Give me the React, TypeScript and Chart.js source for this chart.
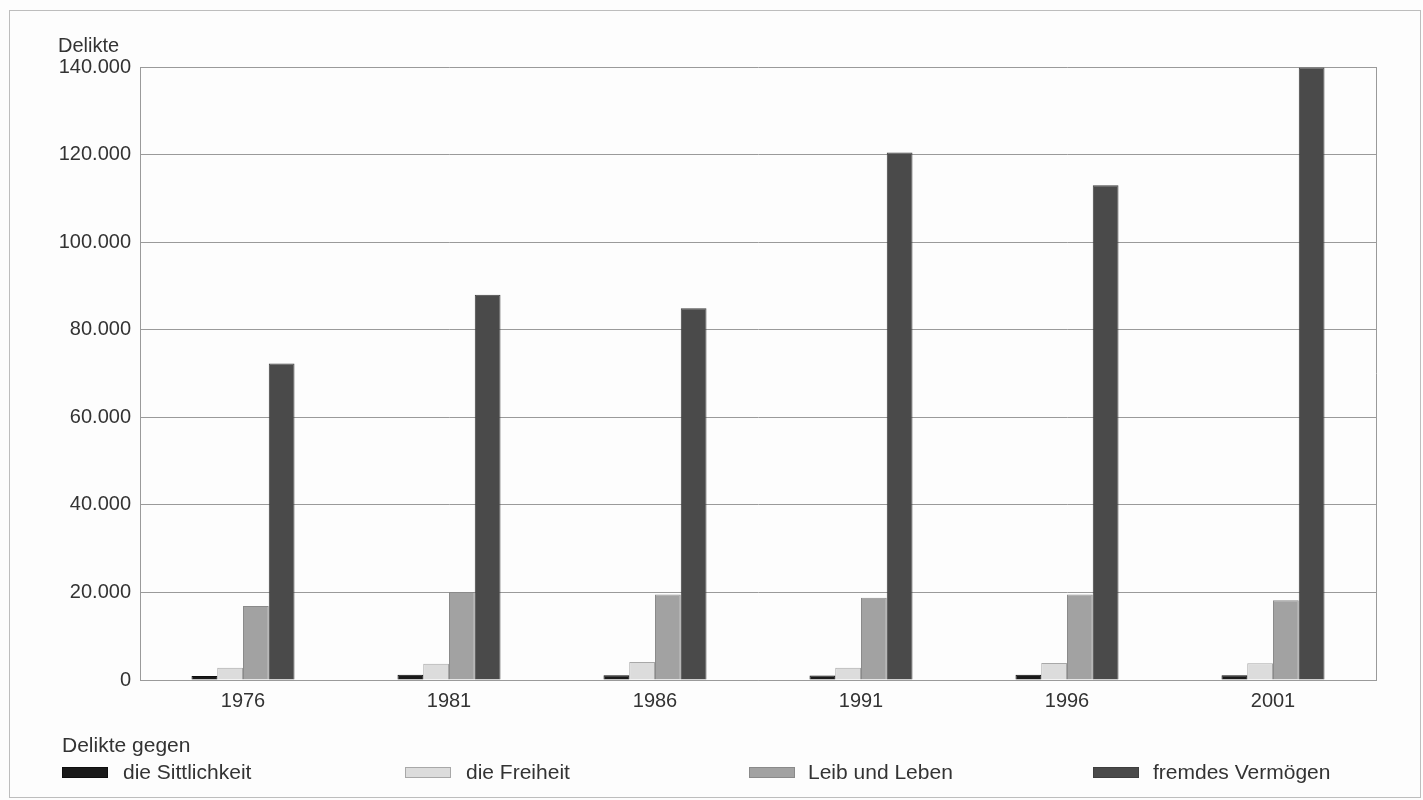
import React, { useEffect, useRef } from "react";
import { Chart, registerables } from "chart.js";

Chart.register(...registerables);

const categories = ["1976", "1981", "1986", "1991", "1996", "2001"];
const seriesNames = ["die Sittlichkeit", "die Freiheit", "Leib und Leben", "fremdes Vermögen"];
const sittlichkeit = [900, 1200, 1100, 1000, 1200, 1100];
const freiheit = [2800, 3700, 4100, 2800, 3900, 3800];
const leibLeben = [16900, 20100, 19500, 18800, 19500, 18200];
const vermoegen = [72300, 88000, 84900, 120500, 113000, 139900];
const yTicks = [0, 20000, 40000, 60000, 80000, 100000, 120000, 140000];

const fills = ["#1a1a1a", "#dcdcdc", "#a2a2a2", "#4a4a4a"];
const borders = ["#0e0e0e", "#a8a8a8", "#8a8a8a", "#3e3e3e"];
const FONT = "'Liberation Sans', Arial, Helvetica, sans-serif";

const fmt = (v: number) => String(v).replace(/\B(?=(\d{3})+(?!\d))/g, ".");

const frameRight = {
  id: "frameRight",
  afterDatasetsDraw(chart: any) {
    const { ctx, chartArea } = chart;
    ctx.save();
    ctx.strokeStyle = "#9a9a9a";
    ctx.lineWidth = 1;
    ctx.beginPath();
    ctx.moveTo(Math.round(chartArea.right) + 0.5, chartArea.top);
    ctx.lineTo(Math.round(chartArea.right) + 0.5, chartArea.bottom);
    ctx.stroke();
    ctx.restore();
  },
};

export default function App() {
  const ref = useRef<HTMLCanvasElement | null>(null);

  useEffect(() => {
    if (!ref.current) return;
    const values = [sittlichkeit, freiheit, leibLeben, vermoegen];
    const chart = new Chart(ref.current, {
      type: "bar",
      data: {
        labels: categories,
        datasets: seriesNames.map((name, i) => ({
          label: name,
          data: values[i],
          backgroundColor: fills[i],
          borderColor: borders[i],
          borderWidth: 1,
          barPercentage: 1,
          categoryPercentage: 0.5,
        })),
      },
      options: {
        responsive: false,
        animation: false,
        layout: { padding: { left: 0, top: 67, right: 47, bottom: 0 } },
        plugins: { legend: { display: false }, tooltip: { enabled: false } },
        scales: {
          x: {
            grid: { display: false },
            border: { display: true, color: "#9a9a9a", width: 1 },
            ticks: {
              color: "#333333",
              font: { family: FONT, size: 20 },
              padding: 1,
            },
            afterFit: (s: any) => {
              s.height = 120;
            },
          },
          y: {
            min: 0,
            max: 140000,
            afterBuildTicks: (s: any) => {
              s.ticks = yTicks.map((v) => ({ value: v }));
            },
            grid: { color: "#9a9a9a", lineWidth: 1, drawTicks: false },
            border: { display: true, color: "#9a9a9a", width: 1 },
            ticks: {
              color: "#333333",
              font: { family: FONT, size: 20 },
              padding: 9,
              callback: (v: any) => fmt(Number(v)),
            },
            afterFit: (s: any) => {
              s.width = 140;
            },
          },
        },
      },
      plugins: [frameRight],
    });
    return () => chart.destroy();
  }, []);

  const boxLeft = [62, 405, 749, 1093];
  const textLeft = [123, 466, 808, 1153];

  const textStyle: React.CSSProperties = {
    position: "absolute",
    fontFamily: FONT,
    color: "#333333",
    whiteSpace: "nowrap",
    lineHeight: "24px",
  };

  return (
    <div
      style={{
        position: "fixed",
        left: 0,
        top: 0,
        width: 1423,
        height: 800,
        background: "#fdfdfd",
        overflow: "hidden",
      }}
    >
      <div
        style={{
          position: "absolute",
          left: 9,
          top: 10,
          width: 1412,
          height: 788,
          border: "1px solid #bdbdbd",
          boxSizing: "border-box",
        }}
      />
      <canvas
        ref={ref}
        width={1423}
        height={800}
        style={{ position: "absolute", left: 0, top: 0, width: 1423, height: 800 }}
      />
      <div style={{ ...textStyle, left: 58, top: 33, fontSize: 20 }}>Delikte</div>
      <div style={{ ...textStyle, left: 62, top: 733, fontSize: 21 }}>Delikte gegen</div>
      {seriesNames.map((name, i) => (
        <React.Fragment key={name}>
          <div
            style={{
              position: "absolute",
              left: boxLeft[i],
              top: 767,
              width: 46,
              height: 11,
              background: fills[i],
              border: `1px solid ${borders[i]}`,
              boxSizing: "border-box",
            }}
          />
          <div style={{ ...textStyle, left: textLeft[i], top: 760, fontSize: 21 }}>{name}</div>
        </React.Fragment>
      ))}
    </div>
  );
}
